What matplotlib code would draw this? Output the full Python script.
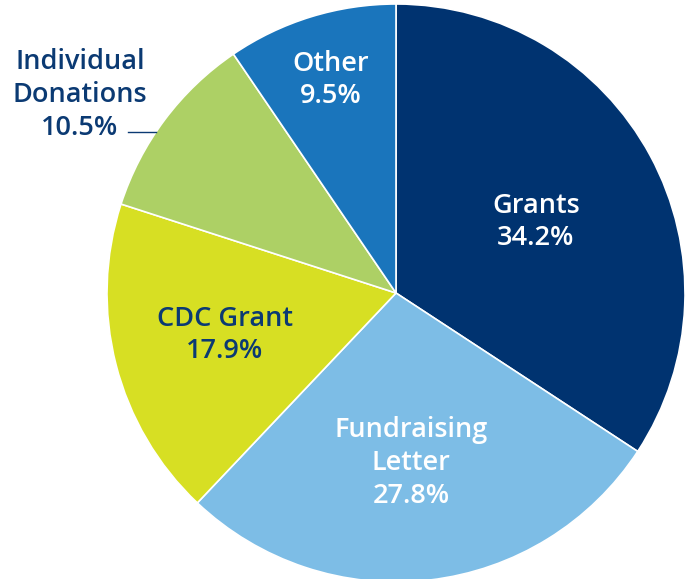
import matplotlib.pyplot as plt

labels = ["Grants", "Fundraising\nLetter", "CDC Grant", "Individual\nDonations", "Other"]
shares = [34.2, 27.8, 17.9, 10.5, 9.5]
colors = ["#003370", "#7dbde6", "#d7df23", "#add065", "#1a75bc"]
text_colors = ["white", "white", "#0b3a73", "#0b3a73", "white"]

W, H = 686, 579
fig = plt.figure(figsize=(W / 100, H / 100), dpi=100)
ax = fig.add_axes([0, 0, 1, 1])

cx, cy, r = 396, H - 293, 289
ax.pie(shares, colors=colors, startangle=90, counterclock=False,
       center=(cx, cy), radius=r, frame=True,
       wedgeprops=dict(edgecolor="white", linewidth=1.2))
ax.set_xlim(0, W)
ax.set_ylim(0, H)
ax.set_aspect("equal")
ax.axis("off")

# label anchor points (pixel coords, top-left origin)
label_pos = [(536, 222), (411, 463), (225, 335), (80, 95), (331, 80)]
fs = 19.5
for lab, val, tc, (x, y) in zip(labels, shares, text_colors, label_pos):
    ax.text(x, H - y, f"{lab}\n{val}%", ha="center", va="center",
            color=tc, fontsize=fs, fontweight="semibold", family="Open Sans",
            linespacing=1.22)

# leader line for the outside label
ax.plot([128, 156], [H - 132, H - 132], color="#0b3a73", lw=1)

plt.savefig("out.png", dpi=100)
